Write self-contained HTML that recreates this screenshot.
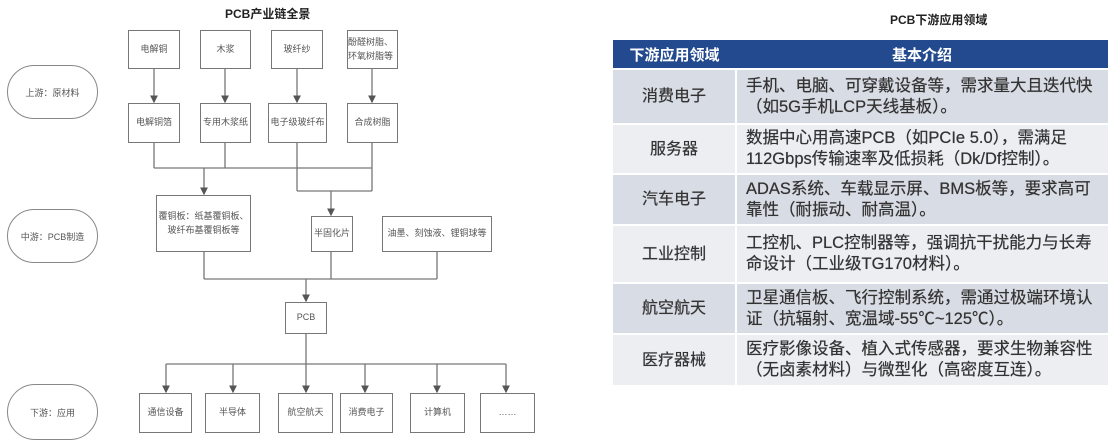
<!DOCTYPE html>
<html><head><meta charset="utf-8"><style>
body{margin:0;width:1115px;height:438px;background:#fff;overflow:hidden;position:relative;font-family:"Liberation Sans","Noto Sans CJK SC",sans-serif;}
.b{position:absolute;border:1.5px solid #777;box-sizing:border-box;display:flex;align-items:center;justify-content:center;text-align:center;font-size:9px;color:#555;line-height:1.5;background:#fff}
.o{position:absolute;border:1.5px solid #888;border-radius:30px;box-sizing:border-box;display:flex;align-items:center;justify-content:center;font-size:9px;color:#555;background:#fff}
.t{position:absolute;font-weight:bold;font-size:12px;color:#222}
table{position:absolute;left:613px;top:40px;width:495px;border-collapse:collapse;font-size:16.5px;color:#333}
td{padding:0 0 0 9px;line-height:21px;white-space:nowrap;letter-spacing:0;text-shadow:0 0 0.5px #333}
td:first-child{text-align:center;width:122px;padding:0;border-right:2px solid #fff;font-size:16px}
tr{border-bottom:2px solid #fff}
th{background:#234a8f;color:#fff;height:26px;font-size:15px}
.g{background:#d8dce4}.l{background:#eceef2}
</style></head><body>
<div class="t" style="left:225px;top:5px">PCB产业链全景</div>
<svg width="600" height="438" style="position:absolute;left:0;top:0">
<defs><marker id="a" markerWidth="6" markerHeight="6" refX="5" refY="3" orient="auto"><path d="M0,0L6,3L0,6z" fill="#555"/></marker></defs>
<g stroke="#777" stroke-width="1.3" fill="none">
<line x1="154" y1="69" x2="154" y2="102" marker-end="url(#a)"/>
<line x1="225" y1="69" x2="225" y2="102" marker-end="url(#a)"/>
<line x1="297" y1="69" x2="297" y2="102" marker-end="url(#a)"/>
<line x1="372" y1="69" x2="372" y2="102" marker-end="url(#a)"/>
<path d="M154 143V168M225 143V168M297 143V191M372 143V191M154 168H372M297 191H372"/>
<line x1="204" y1="168" x2="204" y2="194" marker-end="url(#a)"/>
<line x1="331" y1="191" x2="331" y2="215" marker-end="url(#a)"/>
<path d="M204 252V279M331 252V279M437 252V279M204 279H437"/>
<line x1="306" y1="279" x2="306" y2="301" marker-end="url(#a)"/>
<path d="M306 334V364M166 364H506"/>
<line x1="166" y1="364" x2="166" y2="392" marker-end="url(#a)"/>
<line x1="233" y1="364" x2="233" y2="392" marker-end="url(#a)"/>
<line x1="306" y1="364" x2="306" y2="392" marker-end="url(#a)"/>
<line x1="365" y1="364" x2="365" y2="392" marker-end="url(#a)"/>
<line x1="437" y1="364" x2="437" y2="392" marker-end="url(#a)"/>
<line x1="506" y1="364" x2="506" y2="392" marker-end="url(#a)"/>
</g></svg>
<div class="o" style="left:7px;top:65px;width:91px;height:54px">上游：原材料</div>
<div class="o" style="left:7px;top:209px;width:91px;height:54px">中游：PCB制造</div>
<div class="o" style="left:7px;top:384px;width:91px;height:56px">下游：应用</div>
<div class="b" style="left:128px;top:30px;width:52px;height:39px">电解铜</div>
<div class="b" style="left:200px;top:30px;width:51px;height:39px">木浆</div>
<div class="b" style="left:271px;top:30px;width:52px;height:39px">玻纤纱</div>
<div class="b" style="left:347px;top:30px;width:51px;height:39px;text-align:left">酚醛树脂、环氧树脂等</div>
<div class="b" style="left:128px;top:103px;width:52px;height:40px">电解铜箔</div>
<div class="b" style="left:200px;top:103px;width:51px;height:40px">专用木浆纸</div>
<div class="b" style="left:268px;top:103px;width:59px;height:40px">电子级玻纤布</div>
<div class="b" style="left:347px;top:103px;width:51px;height:40px">合成树脂</div>
<div class="b" style="left:156px;top:195px;width:95px;height:57px">覆铜板：纸基覆铜板、玻纤布基覆铜板等</div>
<div class="b" style="left:311px;top:216px;width:42px;height:36px">半固化片</div>
<div class="b" style="left:382px;top:216px;width:110px;height:36px">油墨、刻蚀液、锂铜球等</div>
<div class="b" style="left:285px;top:302px;width:42px;height:32px">PCB</div>
<div class="b" style="left:139px;top:393px;width:53px;height:40px">通信设备</div>
<div class="b" style="left:205px;top:393px;width:55px;height:40px">半导体</div>
<div class="b" style="left:278px;top:393px;width:55px;height:40px">航空航天</div>
<div class="b" style="left:340px;top:393px;width:53px;height:40px">消费电子</div>
<div class="b" style="left:410px;top:393px;width:55px;height:40px">计算机</div>
<div class="b" style="left:480px;top:393px;width:55px;height:40px">……</div>
<div class="t" style="left:890px;top:11px">PCB下游应用领域</div>
<table>
<tr><th>下游应用领域</th><th>基本介绍</th></tr>
<tr class="g" style="height:55px"><td>消费电子</td><td>手机、电脑、可穿戴设备等，需求量大且迭代快<br>（如5G手机LCP天线基板）。</td></tr>
<tr class="l" style="height:50px"><td>服务器</td><td>数据中心用高速PCB（如PCIe 5.0），需满足<br>112Gbps传输速率及低损耗（Dk/Df控制）。</td></tr>
<tr class="g" style="height:51px"><td>汽车电子</td><td>ADAS系统、车载显示屏、BMS板等，要求高可<br>靠性（耐振动、耐高温）。</td></tr>
<tr class="l" style="height:58px"><td>工业控制</td><td>工控机、PLC控制器等，强调抗干扰能力与长寿<br>命设计（工业级TG170材料）。</td></tr>
<tr class="g" style="height:51px"><td>航空航天</td><td>卫星通信板、飞行控制系统，需通过极端环境认<br>证（抗辐射、宽温域-55℃~125℃）。</td></tr>
<tr class="l" style="height:52px"><td>医疗器械</td><td>医疗影像设备、植入式传感器，要求生物兼容性<br>（无卤素材料）与微型化（高密度互连）。</td></tr>
</table>
</body></html>
